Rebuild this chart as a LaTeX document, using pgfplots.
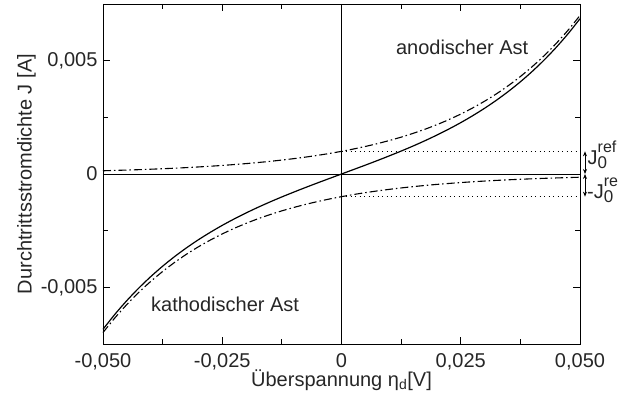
\documentclass[border=0pt]{standalone}
\usepackage{fontspec}
\setmainfont{Liberation Sans}
\usepackage{pgfplots}
\usepackage{pgfplotstable}
\pgfplotsset{compat=1.18}
\usetikzlibrary{arrows.meta}
\pgfplotstableread{
x an ca tot
-0.05 0.000143 -0.006994 -0.006851
-0.0475 0.000158 -0.006346 -0.006188
-0.045 0.000174 -0.005758 -0.005584
-0.0425 0.000191 -0.005224 -0.005033
-0.04 0.000211 -0.004740 -0.004529
-0.0375 0.000233 -0.004301 -0.004068
-0.035 0.000256 -0.003902 -0.003646
-0.0325 0.000282 -0.003540 -0.003258
-0.03 0.000311 -0.003212 -0.002901
-0.0275 0.000343 -0.002915 -0.002572
-0.025 0.000378 -0.002645 -0.002266
-0.0225 0.000417 -0.002399 -0.001983
-0.02 0.000459 -0.002177 -0.001718
-0.0175 0.000506 -0.001975 -0.001469
-0.015 0.000558 -0.001792 -0.001234
-0.0125 0.000615 -0.001626 -0.001011
-0.01 0.000678 -0.001476 -0.000798
-0.0075 0.000747 -0.001339 -0.000592
-0.005 0.000823 -0.001215 -0.000391
-0.0025 0.000907 -0.001102 -0.000195
0 0.001 -0.001 0
0.0025 0.001102 -0.000907 0.000195
0.005 0.001215 -0.000823 0.000391
0.0075 0.001339 -0.000747 0.000592
0.01 0.001476 -0.000678 0.000798
0.0125 0.001626 -0.000615 0.001011
0.015 0.001792 -0.000558 0.001234
0.0175 0.001975 -0.000506 0.001469
0.02 0.002177 -0.000459 0.001718
0.0225 0.002399 -0.000417 0.001983
0.025 0.002645 -0.000378 0.002266
0.0275 0.002915 -0.000343 0.002572
0.03 0.003212 -0.000311 0.002901
0.0325 0.003540 -0.000282 0.003258
0.035 0.003902 -0.000256 0.003646
0.0375 0.004301 -0.000233 0.004068
0.04 0.004740 -0.000211 0.004529
0.0425 0.005224 -0.000191 0.005033
0.045 0.005758 -0.000174 0.005584
0.0475 0.006346 -0.000158 0.006188
0.05 0.006994 -0.000143 0.006851
}\datatable
\begin{document}
\begin{tikzpicture}
\begin{axis}[
 at={(0,0)}, anchor=south west,
 scale only axis, width=477pt, height=340pt,
 xmin=-0.05, xmax=0.05, ymin=-0.0075, ymax=0.0075,
 xtick={-0.05,-0.025,0,0.025,0.05},
 xticklabels={{-0,050},{-0,025},{0},{0,025},{0,050}},
 minor xtick={-0.0375,-0.0125,0.0125,0.0375},
 ytick={-0.005,0,0.005},
 yticklabels={{-0,005},{0},{0,005}},
 minor ytick={-0.0025,0.0025},
 scaled ticks=false,
 tick align=inside, major tick length=7pt, minor tick length=5pt,
 tick style={black, line width=0.9pt},
 axis line style={line width=0.9pt},
 ticklabel style={font=\fontsize{20}{24}\selectfont, text=black!85},
 label style={font=\fontsize{20}{24}\selectfont, text=black!85},
 xticklabel style={anchor=base, yshift=-23pt},
 yticklabel style={xshift=-2pt},
 xlabel={Überspannung η\textsubscript{d}[V]},
 ylabel={Durchtrittsstromdichte J [A]},
 xlabel style={at={(axis description cs:0.5,0)}, anchor=base, yshift=-42pt},
 ylabel style={yshift=-2pt},
 clip=false,
]
\addplot[black, line width=0.9pt] coordinates {(-0.05,0) (0.05,0)};
\addplot[black, line width=0.9pt] coordinates {(0,-0.0075) (0,0.0075)};
\addplot[black, line width=0.8pt, dash pattern=on 1pt off 3.5pt] coordinates {(0,0.001) (0.05,0.001)};
\addplot[black, line width=0.8pt, dash pattern=on 1pt off 3.5pt] coordinates {(0,-0.001) (0.05,-0.001)};
\addplot[black, line width=1.1pt, dash pattern=on 8pt off 3pt on 1.5pt off 3pt, smooth] table[x=x, y=an] {\datatable};
\addplot[black, line width=1.1pt, dash pattern=on 8pt off 3pt on 1.5pt off 3pt, smooth] table[x=x, y=ca] {\datatable};
\addplot[black, line width=1.2pt, smooth] table[x=x, y=tot] {\datatable};
\node[font=\fontsize{20}{24}\selectfont, text=black!85] at (axis cs:0.0253,0.0056) {anodischer Ast};
\node[font=\fontsize{20}{24}\selectfont, text=black!85] at (axis cs:-0.0244,-0.00577) {kathodischer Ast};
\draw[line width=0.8pt, {Stealth[length=5pt,width=4pt]}-{Stealth[length=5pt,width=4pt]}] ([xshift=5pt]axis cs:0.05,0.001) -- ([xshift=5pt]axis cs:0.05,0);
\draw[line width=0.8pt, {Stealth[length=5pt,width=4pt]}-{Stealth[length=5pt,width=4pt]}] ([xshift=5pt]axis cs:0.05,0) -- ([xshift=5pt]axis cs:0.05,-0.001);
\node[anchor=base west, inner sep=0pt, font=\fontsize{20}{24}\selectfont, text=black!85] at ([xshift=7.5pt]axis cs:0.05,0.0004) {J\rlap{\raisebox{12pt}{\fontsize{16}{16}\selectfont ref}}\raisebox{-4pt}{\fontsize{17}{17}\selectfont 0}};
\node[anchor=base west, inner sep=0pt, font=\fontsize{20}{24}\selectfont, text=black!85] at ([xshift=7pt]axis cs:0.05,-0.00106) {-J\rlap{\raisebox{12pt}{\fontsize{16}{16}\selectfont re}}\raisebox{-4pt}{\fontsize{17}{17}\selectfont 0}};
\end{axis}
\pgfresetboundingbox
\path[use as bounding box] (-103pt,-61pt) rectangle (515pt,344pt);
\end{tikzpicture}
\end{document}
